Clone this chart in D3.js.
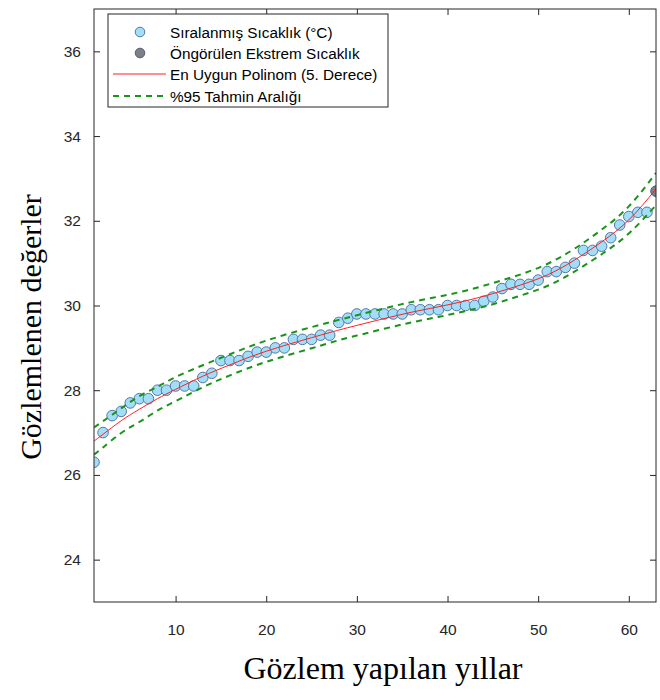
<html>
<script src="https://cdn.jsdelivr.net/npm/d3@7"></script>
<body style="margin:0;background:#fff">
<svg id="chart" width="660" height="700"></svg>
</body>
<script>

// observed sorted temperatures, years 1..62, plus predicted extreme at 63
var obs = [26.3,27.0,27.4,27.5,27.7,27.8,27.8,28.0,28.0,28.1,
           28.1,28.1,28.3,28.4,28.7,28.7,28.7,28.8,28.9,28.9,
           29.0,29.0,29.2,29.2,29.2,29.3,29.3,29.6,29.7,29.8,
           29.8,29.8,29.8,29.8,29.8,29.9,29.9,29.9,29.9,30.0,
           30.0,30.0,30.0,30.1,30.2,30.4,30.5,30.5,30.5,30.6,
           30.8,30.8,30.9,31.0,31.3,31.3,31.4,31.6,31.9,32.1,
           32.2,32.2];
var extremeX = 63, extremeY = 32.7;

// fitted 5th degree polynomial and 95% prediction band
var fitX  = [1,2,4,6,8,10,13,16,20,25,28,30,33,36,39,42,45,48,51,54,57,60,63];
var fitY  = [26.80,26.96,27.28,27.55,27.80,28.02,28.33,28.60,28.92,29.24,29.42,29.53,29.69,29.84,29.97,30.11,30.28,30.48,30.72,31.07,31.50,32.02,32.75];
var upper = [27.12,27.27,27.57,27.86,28.08,28.31,28.59,28.85,29.17,29.49,29.66,29.77,29.93,30.08,30.21,30.35,30.53,30.73,30.98,31.34,31.79,32.34,33.13];
var lower = [26.48,26.65,26.99,27.25,27.52,27.74,28.07,28.35,28.67,28.99,29.18,29.29,29.45,29.60,29.73,29.87,30.03,30.23,30.46,30.80,31.21,31.70,32.37];

var xTicks = [10,20,30,40,50,60];
var yTicks = [24,26,28,30,32,34,36];

var legendLabels = ["Sıralanmış Sıcaklık (°C)", "Öngörülen Ekstrem Sıcaklık",
                    "En Uygun Polinom (5. Derece)", "%95 Tahmin Aralığı"];

var pL = 94, pR = 656, pT = 9, pB = 602;
var svg = d3.select("#chart");
var x = d3.scaleLinear().domain([1,63]).range([pL,pR]);
var y = d3.scaleLinear().domain([23,37]).range([pB,pT]);
var axisCol = "#262626";
var font = "'Liberation Sans', Arial, sans-serif";
var serif = "'Liberation Serif', 'Times New Roman', serif";

svg.append("defs").append("clipPath").attr("id","clip")
  .append("rect").attr("x",pL).attr("y",pT).attr("width",pR-pL).attr("height",pB-pT);

// points
var pts = svg.append("g").attr("clip-path","url(#clip)");
pts.selectAll("circle.obs").data(obs).enter().append("circle")
  .attr("class","obs")
  .attr("cx",function(d,i){return x(i+1);})
  .attr("cy",function(d){return y(d);})
  .attr("r",5.3)
  .attr("fill","#a3def8").attr("stroke","#5577a8").attr("stroke-width",1);
pts.append("circle").attr("cx",x(extremeX)).attr("cy",y(extremeY)).attr("r",5.3)
  .attr("fill","#7f7f85").attr("stroke","#4f5f7a").attr("stroke-width",1);

// lines
var line = function(ys){
  return d3.line().x(function(d,i){return x(fitX[i]);}).y(function(d){return y(d);})
    .curve(d3.curveNatural)(ys);
};
var lines = svg.append("g").attr("clip-path","url(#clip)");
lines.append("path").attr("d",line(fitY)).attr("fill","none")
  .attr("stroke","#ff2020").attr("stroke-width",1);
[upper,lower].forEach(function(b){
  lines.append("path").attr("d",line(b)).attr("fill","none")
    .attr("stroke","#1a931a").attr("stroke-width",2).attr("stroke-dasharray","6,5");
});

// box and axes
svg.append("rect").attr("x",pL).attr("y",pT).attr("width",pR-pL).attr("height",pB-pT)
  .attr("fill","none").attr("stroke",axisCol).attr("stroke-width",1);

var xa = svg.append("g").attr("transform","translate(0,"+pB+")")
  .call(d3.axisBottom(x).tickValues(xTicks).tickSize(-6).tickPadding(22).tickSizeOuter(0));
var ya = svg.append("g").attr("transform","translate("+pL+",0)")
  .call(d3.axisLeft(y).tickValues(yTicks).tickSize(-6).tickPadding(13).tickSizeOuter(0));
var xt = svg.append("g").attr("transform","translate(0,"+pT+")")
  .call(d3.axisTop(x).tickValues(xTicks).tickSize(-6).tickFormat("").tickSizeOuter(0));
var yr = svg.append("g").attr("transform","translate("+pR+",0)")
  .call(d3.axisRight(y).tickValues(yTicks).tickSize(-6).tickFormat("").tickSizeOuter(0));
[xa,ya,xt,yr].forEach(function(a){
  a.select(".domain").remove();
  a.selectAll("line").attr("stroke",axisCol);
  a.selectAll("text").attr("fill",axisCol).style("font-family",font).style("font-size","15.5px");
});

// axis titles
svg.append("text").attr("x",383).attr("y",679).attr("text-anchor","middle")
  .style("font-family",serif).style("font-size","32px")
  .attr("fill","#000").text("Gözlem yapılan yıllar");
svg.append("text").attr("transform","translate(41,327) rotate(-90)").attr("text-anchor","middle")
  .style("font-family",serif).style("font-size","30px")
  .attr("fill","#000").text("Gözlemlenen değerler");

// legend
var lg = svg.append("g");
lg.append("rect").attr("x",108).attr("y",14).attr("width",280).attr("height",93)
  .attr("fill","#fff").attr("stroke",axisCol).attr("stroke-width",1);
var rowY = [32,53,74,96];
lg.append("circle").attr("cx",140).attr("cy",rowY[0]).attr("r",4.8)
  .attr("fill","#a3def8").attr("stroke","#5577a8");
lg.append("circle").attr("cx",140).attr("cy",rowY[1]).attr("r",4.8)
  .attr("fill","#7f7f85").attr("stroke","#4f5f7a");
lg.append("line").attr("x1",113).attr("x2",166).attr("y1",rowY[2]).attr("y2",rowY[2])
  .attr("stroke","#ff2020").attr("stroke-width",1);
lg.append("line").attr("x1",113).attr("x2",166).attr("y1",rowY[3]).attr("y2",rowY[3])
  .attr("stroke","#1a931a").attr("stroke-width",2).attr("stroke-dasharray","6,5");
lg.selectAll("text").data(legendLabels).enter().append("text")
  .attr("x",170).attr("y",function(d,i){return rowY[i]+5.5;})
  .style("font-family",font).style("font-size","15.3px").attr("fill","#000")
  .text(function(d){return d;});

</script>
</html>
